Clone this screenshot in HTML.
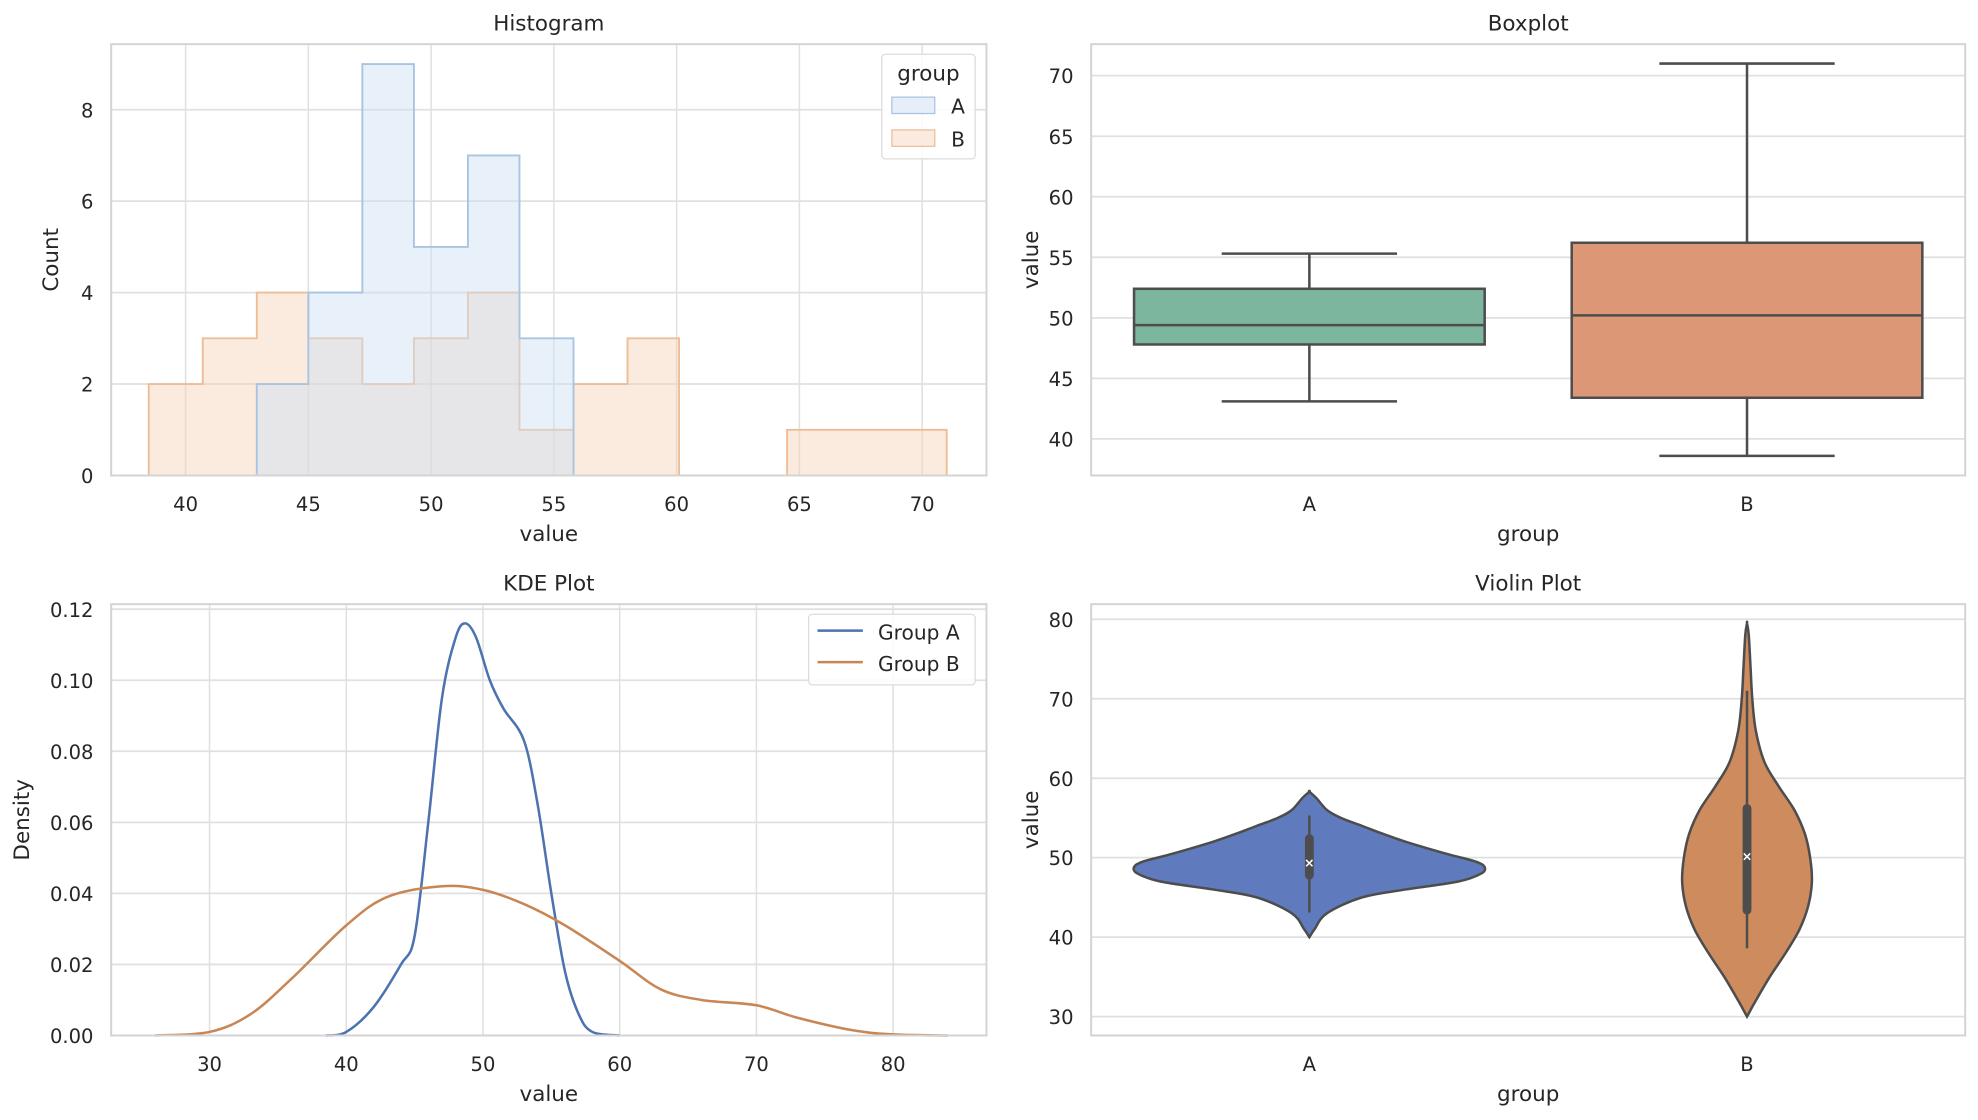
<!DOCTYPE html>
<html><head><meta charset="utf-8"><style>
html,body{margin:0;padding:0;background:#fff;}
svg{display:block;font-family:"DejaVu Sans","Liberation Sans",sans-serif;}
</style></head><body>
<svg id="fig" width="1978" height="1120" viewBox="0 0 1568 888" xmlns="http://www.w3.org/2000/svg"></svg>
<script>
// ---- Histogram data ----
const histAEdges = [42.9,45.0,47.2,49.3,51.5,53.6,55.8];
const histACounts = [2,4,9,5,7,3];
const histBEdges = [38.5,40.7,42.9,45.0,47.2,49.3,51.5,53.6,55.8,58.0,60.1,62.3,64.5,66.6,68.8,71.0];
const histBCounts = [2,3,4,3,2,3,4,1,2,3,0,0,1,1,1];
const histXTicks = [40,45,50,55,60,65,70];
const histYTicks = [0,2,4,6,8];
// ---- Boxplot data ----
const boxGroups = ['A','B'];
const boxWhiskLo = [43.1,38.6];
const boxQ1 = [47.8,43.4];
const boxMedian = [49.4,50.2];
const boxQ3 = [52.4,56.2];
const boxWhiskHi = [55.3,71.0];
const boxYTicks = [40,45,50,55,60,65,70];
// ---- KDE data ----
const kdeAX = [38.5,40,42,44,45,46,47,48,48.7,49.5,50.5,51.5,53,54,55,56,57,58,60];
const kdeAY = [0,0.001,0.008,0.02,0.028,0.06,0.095,0.112,0.116,0.112,0.1,0.092,0.083,0.065,0.04,0.018,0.006,0.001,0];
const kdeBX = [26,30,33,36,40,43,47,50,53,56,60,63,66,70,73,77,80,84];
const kdeBY = [0,0.001,0.006,0.016,0.031,0.039,0.042,0.041,0.037,0.031,0.021,0.013,0.010,0.0085,0.005,0.0015,0.0003,0];
const kdeXTicks = [30,40,50,60,70,80];
const kdeYTicks = [0,0.02,0.04,0.06,0.08,0.10,0.12];
// ---- Violin data ----
const vioAVals = [40,41,43,45,46,47,48,48.8,49.5,50.5,52,53,54,55,56,57.5,58.3];
const vioAWidth = [0,0.03,0.1,0.3,0.55,0.85,0.98,1,0.95,0.78,0.55,0.42,0.3,0.18,0.1,0.04,0];
const vioBVals = [30,32,35,38,41,44,47,50,53,56,59,62,66,70,74,78,79.5];
const vioBWidth = [0,0.05,0.13,0.22,0.3,0.35,0.37,0.36,0.33,0.27,0.18,0.1,0.05,0.03,0.02,0.01,0];
const vioYTicks = [30,40,50,60,70,80];

const NS='http://www.w3.org/2000/svg';
const fig=document.getElementById('fig');
function mk(tag,attrs,parent,text){const e=document.createElementNS(NS,tag);for(const k in attrs)e.setAttribute(k,attrs[k]);if(text!==undefined)e.textContent=text;(parent||fig).appendChild(e);return e;}
function lin(d0,d1,r0,r1){return v=>r0+(v-d0)*(r1-r0)/(d1-d0);}
function smooth(all,close){
  let d=`M${all[0][0]},${all[0][1]}`;
  for(let k=0;k<all.length-1;k++){
    const p0=all[Math.max(k-1,0)],p1=all[k],p2=all[k+1],p3=all[Math.min(k+2,all.length-1)];
    d+=` C${p1[0]+(p2[0]-p0[0])/6},${p1[1]+(p2[1]-p0[1])/6} ${p2[0]-(p3[0]-p1[0])/6},${p2[1]-(p3[1]-p1[1])/6} ${p2[0]},${p2[1]}`;
  }
  return close?d+' Z':d;
}

function axesFrame(L,R,T,B,name,title,xlabel,ylabel){
  const g=mk('g',{});
  
  
  const t=mk('text',{x:(L+R)/2,y:T-11,'text-anchor':'middle','font-size':17,fill:'#262626'},g,title);
  
  
  const xl=mk('text',{x:(L+R)/2,y:B+52,'text-anchor':'middle','font-size':17,fill:'#262626'},g,xlabel);
  
  
  const yx=L-(name==='kde-plot'?65:42);
  const yl=mk('text',{x:yx,y:(T+B)/2,'text-anchor':'middle','font-size':17,fill:'#262626',transform:`rotate(-90 ${yx} ${(T+B)/2})`},g,ylabel);
  
  
  return g;
}
function border(g,L,R,T,B){mk('rect',{x:L,y:T,width:R-L,height:B-T,fill:'none',stroke:'#d4d4d4','stroke-width':1.6},g);}
function yTicks(g,ticks,y,L,R,fmt){ticks.forEach(v=>{mk('line',{x1:L,x2:R,y1:y(v),y2:y(v),stroke:'#e0e0e0','stroke-width':1.4},g);const t=mk('text',{x:L-14,y:y(v)+6,'text-anchor':'end','font-size':15.5,fill:'#262626'},g,fmt?fmt(v):String(v));});}
function xTicks(g,ticks,x,T,B,grid,labels){ticks.forEach((v,i)=>{if(grid)mk('line',{x1:x(v),x2:x(v),y1:T,y2:B,stroke:'#e0e0e0','stroke-width':1.2},g);const t=mk('text',{x:x(v),y:B+28,'text-anchor':'middle','font-size':15.5,fill:'#262626'},g,labels?labels[i]:String(v));});}

// ===== Histogram =====
(function(){
  const L=88,R=782,T=35,B=377;
  const x=lin(40,70,147,731), y=lin(0,8,377,87);
  const g=axesFrame(L,R,T,B,'histogram','Histogram','value','Count');
  yTicks(g,histYTicks,y,L,R); xTicks(g,histXTicks,x,T,B,true);
  function step(edges,counts,fill,stroke,name){
    let d=`M${x(edges[0])},${y(0)}`;
    counts.forEach((c,i)=>{d+=` L${x(edges[i])},${y(c)} L${x(edges[i+1])},${y(c)}`;});
    d+=` L${x(edges[edges.length-1])},${y(0)} Z`;
    const p=mk('path',{d,fill,'fill-opacity':0.45,stroke,'stroke-width':1.5},g);
    
    
  }
  step(histBEdges,histBCounts,'#f6d2b6','#eebd96','hist-series-b');
  step(histAEdges,histACounts,'#cddff4','#a9c4e3','hist-series-a');
  border(g,L,R,T,B);
  const lg=mk('g',{},g);
  
  
  mk('rect',{x:699,y:43,width:74,height:83,rx:3,fill:'#fff','fill-opacity':0.85,stroke:'#dcdcdc'},lg);
  mk('text',{x:736,y:64,'text-anchor':'middle','font-size':17,fill:'#262626'},lg,'group');
  mk('rect',{x:707,y:77,width:34,height:13,fill:'#e6eef9',stroke:'#a9c4e3'},lg);
  mk('text',{x:754,y:90,'font-size':16,fill:'#262626'},lg,'A');
  mk('rect',{x:707,y:103,width:34,height:13,fill:'#fbeadf',stroke:'#eebd96'},lg);
  mk('text',{x:754,y:116,'font-size':16,fill:'#262626'},lg,'B');
})();

// ===== Boxplot =====
(function(){
  const L=865,R=1558,T=35,B=377;
  const y=lin(40,70,348,60);
  const xc=[1038,1385], hw=139;
  const g=axesFrame(L,R,T,B,'boxplot','Boxplot','group','value');
  yTicks(g,boxYTicks,y,L,R); xTicks(g,[0,1],i=>xc[i],T,B,false,boxGroups);
  const cols=['#7db69f','#dc9876'];
  boxGroups.forEach((gr,i)=>{
    const bg=mk('g',{},g);
    
    
    const c=xc[i],s='#4d4d4d';
    mk('line',{x1:c,x2:c,y1:y(boxWhiskLo[i]),y2:y(boxQ1[i]),stroke:s,'stroke-width':2},bg);
    mk('line',{x1:c,x2:c,y1:y(boxQ3[i]),y2:y(boxWhiskHi[i]),stroke:s,'stroke-width':2},bg);
    mk('line',{x1:c-hw/2,x2:c+hw/2,y1:y(boxWhiskLo[i]),y2:y(boxWhiskLo[i]),stroke:s,'stroke-width':2},bg);
    mk('line',{x1:c-hw/2,x2:c+hw/2,y1:y(boxWhiskHi[i]),y2:y(boxWhiskHi[i]),stroke:s,'stroke-width':2},bg);
    mk('rect',{x:c-hw,y:y(boxQ3[i]),width:2*hw,height:y(boxQ1[i])-y(boxQ3[i]),fill:cols[i],stroke:s,'stroke-width':2},bg);
    mk('line',{x1:c-hw,x2:c+hw,y1:y(boxMedian[i]),y2:y(boxMedian[i]),stroke:s,'stroke-width':2},bg);
  });
  border(g,L,R,T,B);
})();

// ===== KDE =====
(function(){
  const L=88,R=782,T=479,B=821;
  const x=lin(30,80,166,708), y=lin(0,0.12,821,483);
  const g=axesFrame(L,R,T,B,'kde-plot','KDE Plot','value','Density');
  yTicks(g,kdeYTicks,y,L,R,v=>v.toFixed(2)); xTicks(g,kdeXTicks,x,T,B,true);
  function line(xs,ys,col,name){
    const pts=xs.map((v,i)=>[x(v),y(ys[i])]);
    const p=mk('path',{d:smooth(pts,false),fill:'none',stroke:col,'stroke-width':2,'stroke-linejoin':'round'},g);
    
    
  }
  line(kdeAX,kdeAY,'#4c72b0','kde-line-group-a');
  line(kdeBX,kdeBY,'#c98655','kde-line-group-b');
  border(g,L,R,T,B);
  const lg=mk('g',{},g);
  
  
  mk('rect',{x:641,y:487,width:132,height:56,rx:3,fill:'#fff','fill-opacity':0.85,stroke:'#dcdcdc'},lg);
  mk('line',{x1:648,x2:684,y1:500,y2:500,stroke:'#4c72b0','stroke-width':2},lg);
  mk('text',{x:696,y:507,'font-size':16,fill:'#262626'},lg,'Group A');
  mk('line',{x1:648,x2:684,y1:525,y2:525,stroke:'#c98655','stroke-width':2},lg);
  mk('text',{x:696,y:532,'font-size':16,fill:'#262626'},lg,'Group B');
})();

// ===== Violin =====
(function(){
  const L=865,R=1558,T=479,B=821;
  const y=lin(30,80,806,491);
  const xc=[1038,1385], maxHw=139;
  const g=axesFrame(L,R,T,B,'violin-plot','Violin Plot','group','value');
  yTicks(g,vioYTicks,y,L,R); xTicks(g,[0,1],i=>xc[i],T,B,false,boxGroups);
  const sets=[[vioAVals,vioAWidth,'#5f7bbd'],[vioBVals,vioBWidth,'#cd8b5e']];
  sets.forEach((s,i)=>{
    const [vals,w,col]=s,c=xc[i];
    let pts=vals.map((v,j)=>[c+w[j]*maxHw,y(v)]);
    let back=vals.map((v,j)=>[c-w[j]*maxHw,y(v)]).reverse();
    const p=mk('path',{d:smooth(pts.concat(back),true),fill:col,stroke:'#4d4d4d','stroke-width':2},g);
    
    
    mk('line',{x1:c,x2:c,y1:y(boxWhiskLo[i]),y2:y(boxWhiskHi[i]),stroke:'#4d4d4d','stroke-width':2},g);
    mk('line',{x1:c,x2:c,y1:y(boxQ1[i]),y2:y(boxQ3[i]),stroke:'#4d4d4d','stroke-width':7,'stroke-linecap':'round'},g);
    mk('text',{x:c,y:y(boxMedian[i])+3.5,'text-anchor':'middle','font-size':10,'font-weight':'bold',fill:'#fff'},g,'×');
  });
  border(g,L,R,T,B);
})();
</script>
</body></html>
